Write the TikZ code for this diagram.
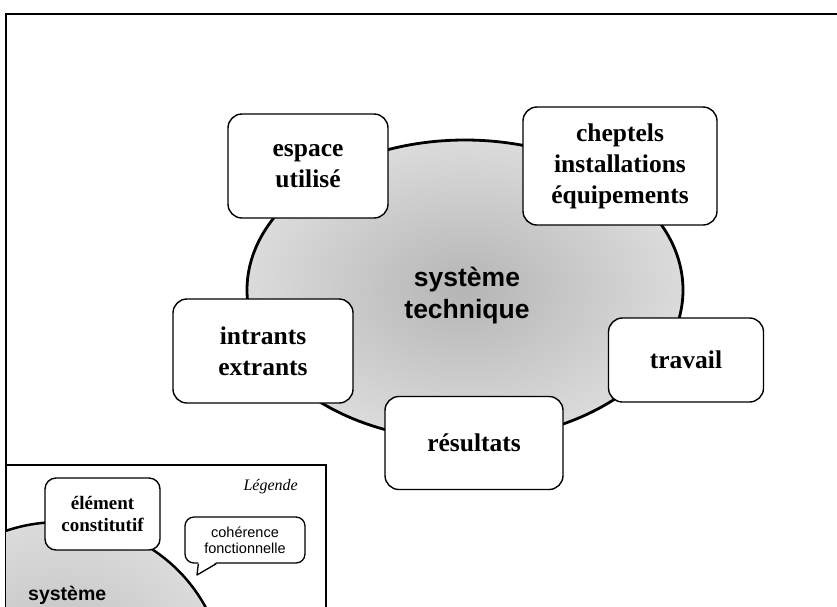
\documentclass[tikz,border=0pt]{standalone}
\usepackage{fontspec}
\setmainfont{Liberation Serif}
\setsansfont{Liberation Sans}
\usetikzlibrary{shapes.geometric,calc}
\begin{document}
\begin{tikzpicture}[x=1pt,y=-1pt,
  elem/.style={draw, line width=1.4pt, rounded corners=14pt, fill=white, align=center,
    font=\fontsize{25.5}{31}\selectfont\bfseries, inner sep=0pt},
  sysshape/.style={ellipse, draw, line width=2.8pt, inner color=gray!58, outer color=gray!28, inner sep=0pt},
  bubble/.style={draw, line width=1.3pt, rounded corners=9pt, fill=white, align=center, inner sep=0pt,
    font=\sffamily\fontsize{14.5}{15.5}\selectfont},
  frameline/.style={line width=2pt}
  ]
\useasboundingbox (0,0) rectangle (837,606);
\clip (0,0) rectangle (837,606);
\fill[white] (0,0) rectangle (837,606);
\draw[frameline] (837,14) -- (6,14) -- (6,606);

% main system
\node[sysshape, minimum width=436pt, minimum height=300pt] (sys) at (465,290) {};
\node[align=center, inner sep=0pt, font=\sffamily\bfseries\fontsize{26.5}{32}\selectfont] (syslabel) at (467,296) {système\\technique};

\node[elem, minimum width=160pt, minimum height=104pt] (espace) at (308,166) {espace\\utilisé};
\node[elem, minimum width=194pt, minimum height=118pt] (cheptels) at (620,166) {cheptels\\installations\\équipements};
\node[elem, minimum width=180pt, minimum height=104pt] (intrants) at (263,351) {intrants\\extrants};
\node[elem, minimum width=178pt, minimum height=93pt] (resultats) at (474,443) {résultats};
\node[elem, minimum width=155pt, minimum height=84pt] (travail) at (686,360) {travail};

% legend
\draw[line width=1.5pt, fill=white] (6,612) -- (6,465) -- (326,465) -- (326,612);
\begin{scope}
  \clip (6,465) rectangle (326,606);
  \node[sysshape, line width=2.5pt, inner color=gray!52, outer color=gray!28,
    minimum width=328pt, minimum height=316pt] (legell) at (60,680) {};
\end{scope}
\node[anchor=base west, font=\sffamily\bfseries\fontsize{19.5}{24}\selectfont, inner sep=0pt] (legsys) at (28,600) {système};
\node[elem, font=\fontsize{19}{22}\selectfont\bfseries, minimum width=115pt, minimum height=72pt,
  rounded corners=11pt] (elem) at (102.5,514) {élément\\constitutif};
\node[anchor=base east, font=\itshape\fontsize{16}{19}\selectfont, inner sep=0pt] (leg) at (298,490) {Légende};
\node[bubble, minimum width=120pt, minimum height=46pt] (bub) at (245,540) {cohérence\\fonctionnelle};
\coordinate (tip) at (197,575);
\fill[white] ($(bub.south west)+(14,-1.6)$) -- (tip) -- ($(bub.south west)+(32,-1.6)$) -- cycle;
\draw[line width=1.3pt, line join=round] ($(bub.south west)+(14,0)$) -- (tip) -- ($(bub.south west)+(32,0)$);
\end{tikzpicture}
\end{document}
